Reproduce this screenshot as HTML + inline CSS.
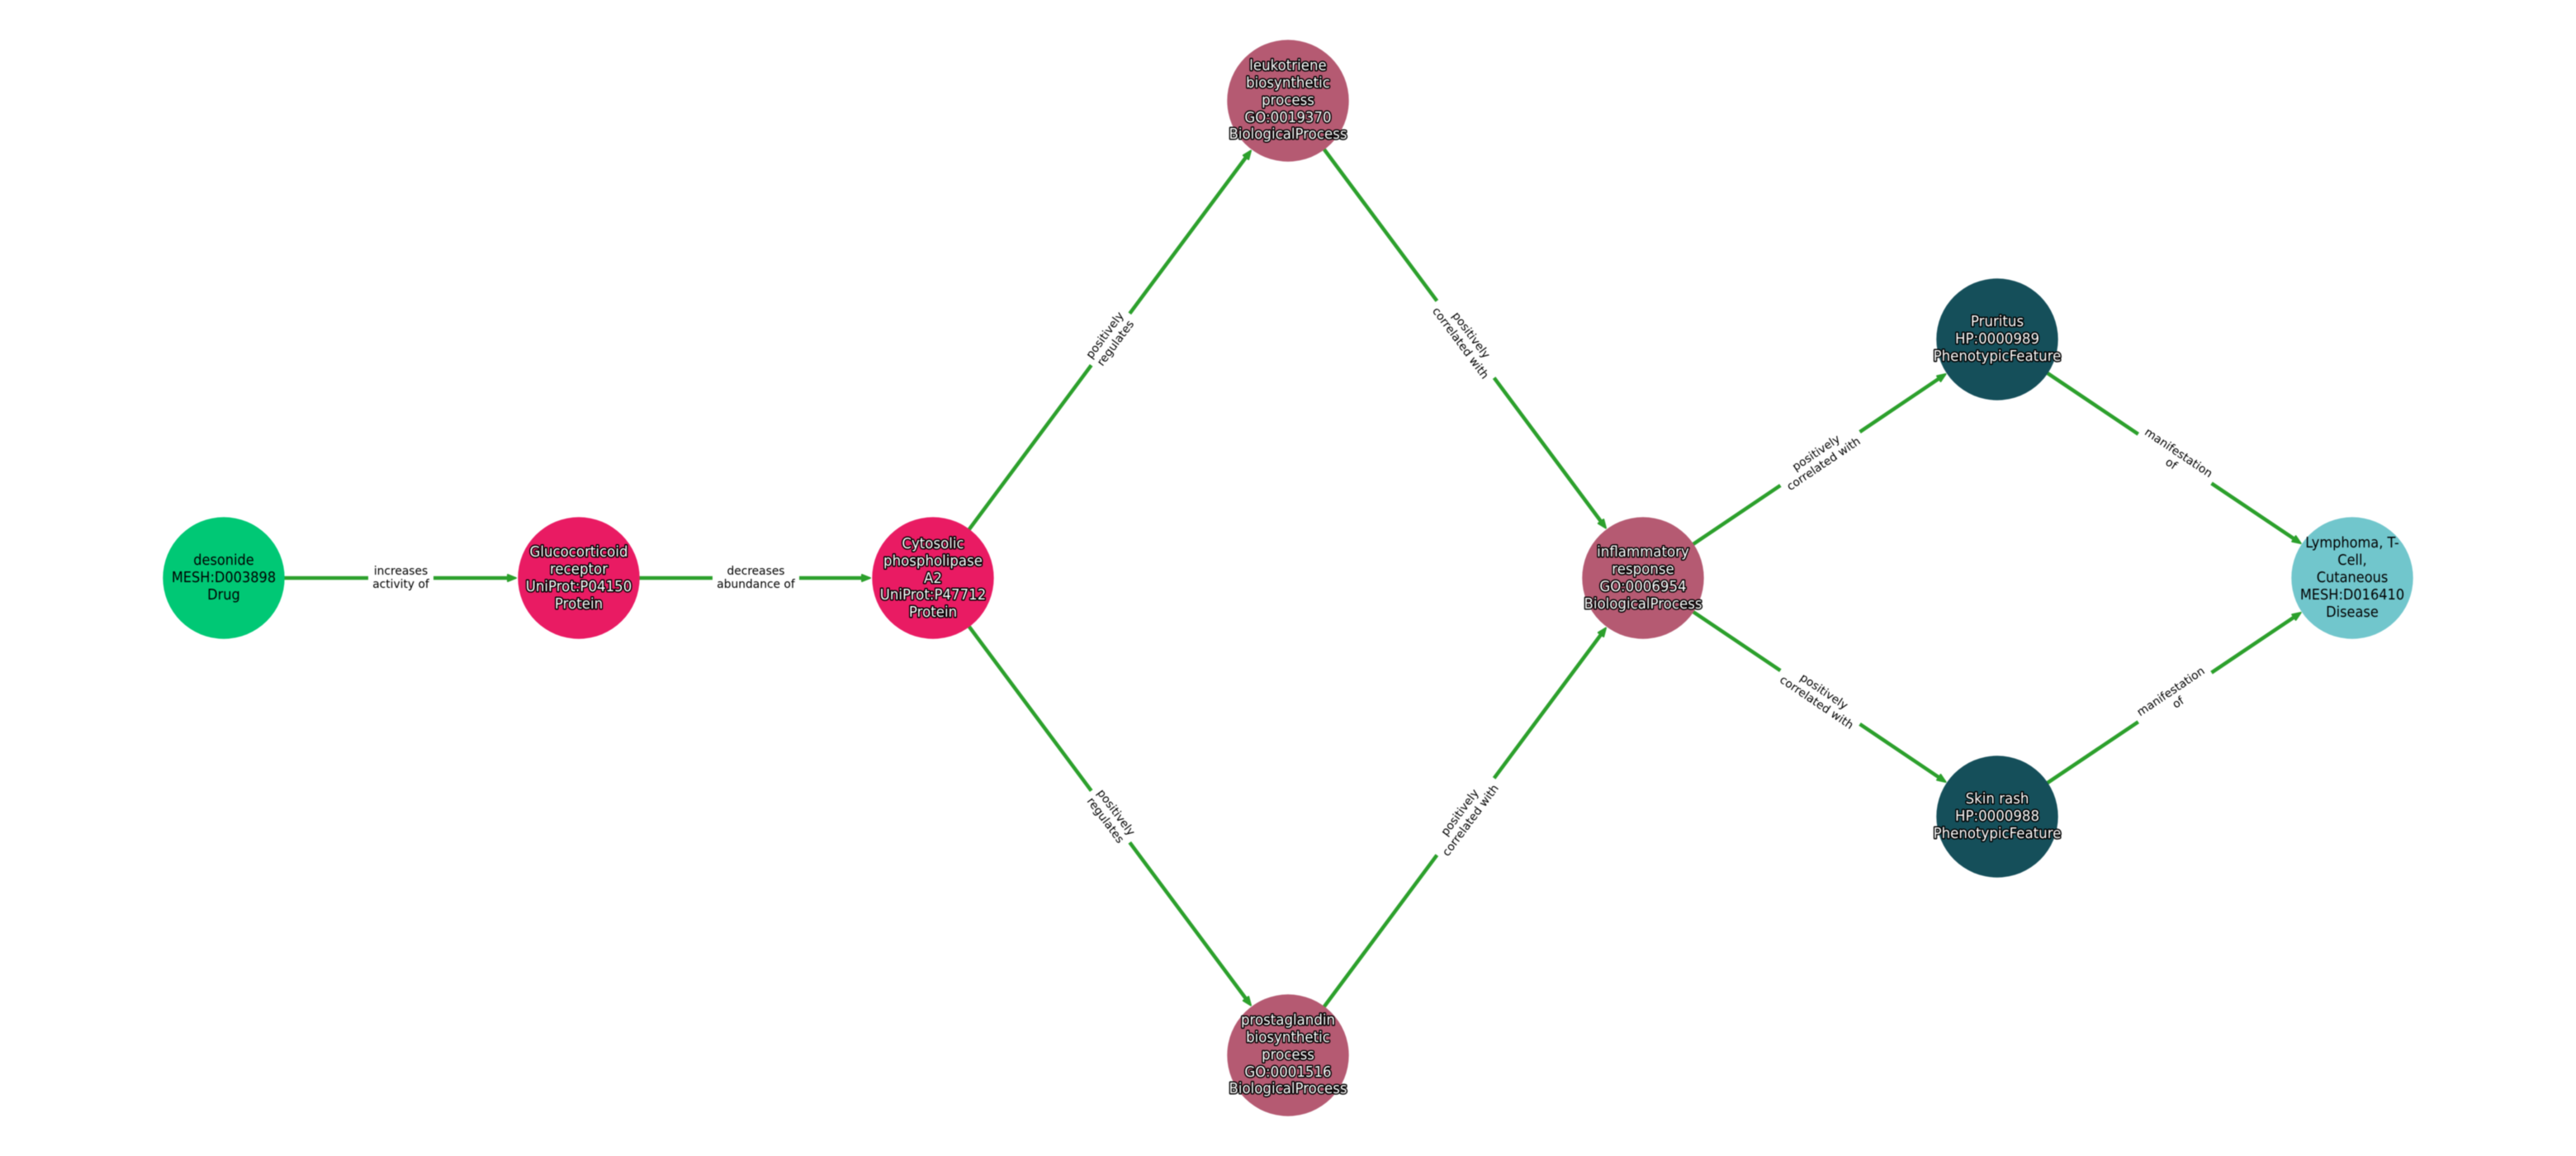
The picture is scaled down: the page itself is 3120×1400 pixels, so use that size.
<!DOCTYPE html>
<html><head><meta charset="utf-8"><style>
html,body{margin:0;padding:0;background:#fff}
svg{display:block;filter:blur(0.4px)}
text{font-family:"DejaVu Sans",sans-serif;text-anchor:middle}
.e{font-size:13.8px;fill:#000}
.n,.h{font-size:17.4px;transform-box:fill-box;transform-origin:center;transform:scaleX(.955)}
.n{fill:#000;transform:scaleX(.93)}
.h{fill:#fff;stroke:#000;stroke-width:3px;paint-order:stroke;stroke-linejoin:round}
.l{stroke:#2ca02c;stroke-width:4.5;fill:none}
.a{fill:#2ca02c;stroke:#2ca02c;stroke-width:2;stroke-linejoin:round}
</style></head><body>
<svg width="3120" height="1400" viewBox="0 0 3120 1400" xmlns="http://www.w3.org/2000/svg">
<rect width="3120" height="1400" fill="#fff"/>

<g transform="translate(271,700)"><line class="l" x1="0" x2="348" y1="0" y2="0"/><polygon class="a" points="354,0 344,-4 344,4"/><rect x="175" y="-20" width="79" height="40" fill="#fff"/><text class="e" x="214.5" y="-4">increases</text><text class="e" x="214.5" y="12">activity of</text></g>

<g transform="translate(701,700)"><line class="l" x1="0" x2="347" y1="0" y2="0"/><polygon class="a" points="353,0 343,-4 343,4"/><rect x="162" y="-20" width="105" height="40" fill="#fff"/><text class="e" x="214.5" y="-4">decreases</text><text class="e" x="214.5" y="12">abundance of</text></g>

<g transform="translate(1130,700) rotate(-53.35)"><line class="l" x1="0" x2="638" y1="0" y2="0"/><polygon class="a" points="645,0 635,-4 635,4"/><rect x="321.2" y="-20" width="78" height="40" fill="#fff"/><text class="e" x="360.2" y="-4">positively</text><text class="e" x="360.2" y="12">regulates</text></g>

<g transform="translate(1130,700) rotate(53.35)"><line class="l" x1="0" x2="638" y1="0" y2="0"/><polygon class="a" points="645,0 635,-4 635,4"/><rect x="321.2" y="-20" width="78" height="40" fill="#fff"/><text class="e" x="360.2" y="-4">positively</text><text class="e" x="360.2" y="12">regulates</text></g>

<g transform="translate(1560,122) rotate(53.35)"><line class="l" x1="0" x2="638" y1="0" y2="0"/><polygon class="a" points="645,0 635,-4 635,4"/><rect x="302.2" y="-20" width="116" height="40" fill="#fff"/><text class="e" x="360.2" y="-4">positively</text><text class="e" x="360.2" y="12">correlated with</text></g>

<g transform="translate(1560,1278) rotate(-53.35)"><line class="l" x1="0" x2="638" y1="0" y2="0"/><polygon class="a" points="645,0 635,-4 635,4"/><rect x="302.2" y="-20" width="116" height="40" fill="#fff"/><text class="e" x="360.2" y="-4">positively</text><text class="e" x="360.2" y="12">correlated with</text></g>

<g transform="translate(1990,700) rotate(-33.97)"><line class="l" x1="0" x2="435" y1="0" y2="0"/><polygon class="a" points="442,0 432,-4 432,4"/><rect x="200.6" y="-20" width="116" height="40" fill="#fff"/><text class="e" x="258.6" y="-4">positively</text><text class="e" x="258.6" y="12">correlated with</text></g>

<g transform="translate(1990,700) rotate(33.97)"><line class="l" x1="0" x2="435" y1="0" y2="0"/><polygon class="a" points="442,0 432,-4 432,4"/><rect x="200.6" y="-20" width="116" height="40" fill="#fff"/><text class="e" x="258.6" y="-4">positively</text><text class="e" x="258.6" y="12">correlated with</text></g>

<g transform="translate(2419,411) rotate(33.9)"><line class="l" x1="0" x2="436" y1="0" y2="0"/><polygon class="a" points="443,0 433,-4 433,4"/><rect x="205.7" y="-20" width="107" height="40" fill="#fff"/><text class="e" x="259" y="-4">manifestation</text><text class="e" x="259" y="12">of</text></g>

<g transform="translate(2419,989) rotate(-33.9)"><line class="l" x1="0" x2="436" y1="0" y2="0"/><polygon class="a" points="443,0 433,-4 433,4"/><rect x="205.7" y="-20" width="107" height="40" fill="#fff"/><text class="e" x="259" y="-4">manifestation</text><text class="e" x="259" y="12">of</text></g>

<circle cx="271" cy="700" r="73.7" fill="#00c875"/>
<circle cx="701" cy="700" r="73.7" fill="#e91b63"/>
<circle cx="1130" cy="700" r="73.7" fill="#e91b63"/>
<circle cx="1560" cy="122" r="73.7" fill="#b55a72"/>
<circle cx="1560" cy="1278" r="73.7" fill="#b55a72"/>
<circle cx="1990" cy="700" r="73.7" fill="#b55a72"/>
<circle cx="2419" cy="411" r="73.7" fill="#154f5a"/>
<circle cx="2419" cy="989" r="73.7" fill="#154f5a"/>
<circle cx="2849" cy="700" r="73.7" fill="#71c6cc"/>

<text class="n" x="271" y="684">desonide</text>
<text class="n" x="271" y="705">MESH:D003898</text>
<text class="n" x="271" y="726">Drug</text>

<text class="h" x="701" y="674">Glucocorticoid</text>
<text class="h" x="701" y="695">receptor</text>
<text class="h" x="701" y="716">UniProt:P04150</text>
<text class="h" x="701" y="737">Protein</text>

<text class="h" x="1130" y="664">Cytosolic</text>
<text class="h" x="1130" y="685">phospholipase</text>
<text class="h" x="1130" y="706">A2</text>
<text class="h" x="1130" y="726">UniProt:P47712</text>
<text class="h" x="1130" y="747">Protein</text>

<text class="h" x="1560" y="85">leukotriene</text>
<text class="h" x="1560" y="106">biosynthetic</text>
<text class="h" x="1560" y="127">process</text>
<text class="h" x="1560" y="148">GO:0019370</text>
<text class="h" x="1560" y="168">BiologicalProcess</text>

<text class="h" x="1560" y="1241">prostaglandin</text>
<text class="h" x="1560" y="1262">biosynthetic</text>
<text class="h" x="1560" y="1283">process</text>
<text class="h" x="1560" y="1304">GO:0001516</text>
<text class="h" x="1560" y="1324">BiologicalProcess</text>

<text class="h" x="1990" y="674">inflammatory</text>
<text class="h" x="1990" y="695">response</text>
<text class="h" x="1990" y="716">GO:0006954</text>
<text class="h" x="1990" y="737">BiologicalProcess</text>

<text class="h" x="2419" y="395">Pruritus</text>
<text class="h" x="2419" y="416">HP:0000989</text>
<text class="h" x="2419" y="437">PhenotypicFeature</text>

<text class="h" x="2419" y="973">Skin rash</text>
<text class="h" x="2419" y="994">HP:0000988</text>
<text class="h" x="2419" y="1015">PhenotypicFeature</text>

<text class="n" x="2849" y="663">Lymphoma, T-</text>
<text class="n" x="2849" y="684">Cell,</text>
<text class="n" x="2849" y="705">Cutaneous</text>
<text class="n" x="2849" y="726">MESH:D016410</text>
<text class="n" x="2849" y="747">Disease</text>
</svg>
</body></html>
